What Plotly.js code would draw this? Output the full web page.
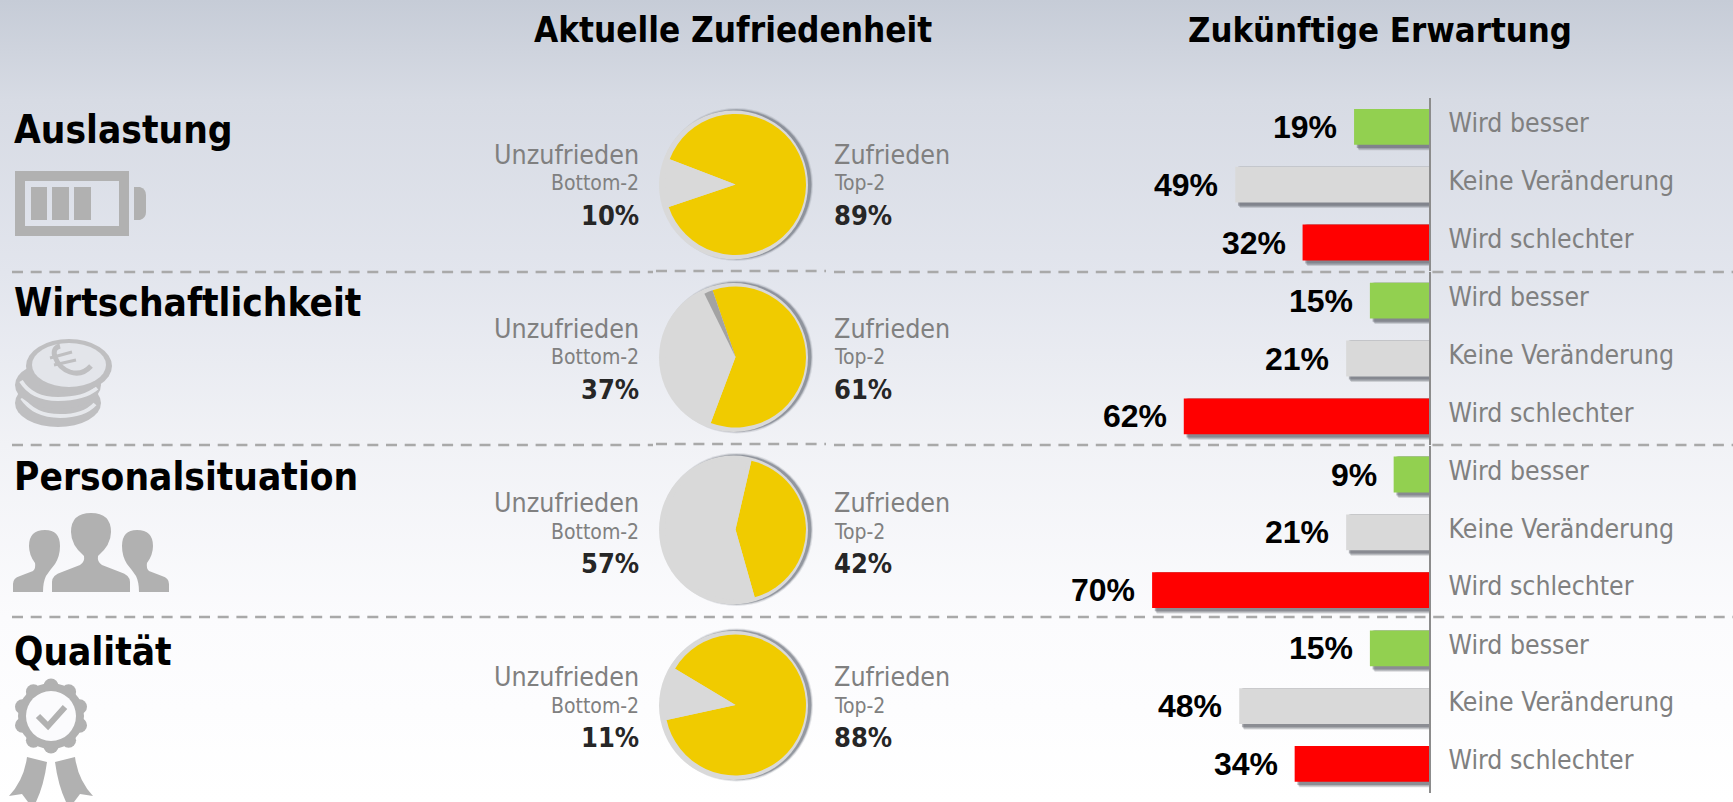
<!DOCTYPE html>
<html>
<head>
<meta charset="utf-8">
<script src="https://cdn.plot.ly/plotly-3.0.1.min.js"></script>
<style>
html,body{margin:0;padding:0;width:1733px;height:802px;overflow:hidden;
background:linear-gradient(180deg,#c6ccd7 0,#d7dbe4 100px,#e2e5ed 272px,#f1f2f6 445px,#fbfbfd 617px,#ffffff 802px);}
#chart{width:1733px;height:802px;}
</style>
</head>
<body>
<div id="chart"></div>
<script>
var rowNames = ["Auslastung","Wirtschaftlichkeit","Personalsituation","Qualität"];
var expectationLabels = ["Wird besser","Keine Veränderung","Wird schlechter"];
var expectationColors = ["#92d050","#d9d9d9","#ff0000"];
var expAuslastung = [19,49,32];
var expWirtschaft = [15,21,62];
var expPersonal = [9,21,70];
var expQualitaet = [15,48,34];
var pieLabels = ["Zufrieden","Unzufrieden","Rest"];
var zufrieden = [89,61,42,88];
var unzufrieden = [10,37,57,11];
var rest = [1,2,1,1];
var pieRotation = [-69,-19,13,-59];

var W=1733,H=802,FONT='"DejaVu Sans Condensed","DejaVu Sans",sans-serif',ARIAL='"Liberation Sans",Arial,sans-serif';
var fx=function(p){return p/W;}, fy=function(p){return 1-p/H;};
var expectation=[expAuslastung,expWirtschaft,expPersonal,expQualitaet];

var traces=[],shapes=[],annotations=[],images=[];
var layout={width:W,height:H,margin:{l:0,r:0,t:0,b:0},paper_bgcolor:'rgba(0,0,0,0)',plot_bgcolor:'rgba(0,0,0,0)',showlegend:false,font:{family:FONT}};

function ann(text,x,y,size,color,weight,anchor,family){
  annotations.push({text:text,xref:'paper',yref:'paper',x:fx(x),y:fy(y),xanchor:anchor,yanchor:'middle',showarrow:false,
    font:{family:family||FONT,size:size,color:color,weight:weight}});
}
function circle(cx,cy,r,fill){
  shapes.push({type:'circle',xref:'paper',yref:'paper',x0:fx(cx-r),x1:fx(cx+r),y0:fy(cy-r),y1:fy(cy+r),fillcolor:fill,line:{width:0},layer:'below'});
}
function dash(x0,x1,y){
  shapes.push({type:'line',xref:'paper',yref:'paper',x0:fx(x0),x1:fx(x1),y0:fy(y),y1:fy(y),line:{color:'#a9a9a9',width:2.5,dash:'11px,7.7px'},layer:'below'});
}

ann("Aktuelle Zufriedenheit",733,30,34.8,'#000',700,'center');
ann("Zukünftige Erwartung",1380,30,34.4,'#000',700,'center');

var pxPerPct=3.96, axisX=1429.3, leftX=1000, panelTop=98, panelH=173.4, rowStep=173.8;
var range=[(axisX-leftX)/pxPerPct,0];
var nameY=[129,303,476,651];

var pieY=[184.5,357,529.5,705];

rowNames.forEach(function(name,k){
  ann(name,12,nameY[k],38.5,'#000',700,'left');
  // pie
  var cx=735.5,cy=pieY[k],r=70.5;
  [[76.5,'rgba(130,135,145,.2)'],[75.5,'rgba(120,125,135,.35)'],[74.8,'rgba(120,125,135,.6)']].forEach(function(s){circle(cx+1,cy,s[0],s[1]);});
  circle(733.5,cy+.5,74.5,'#d9d9d9');
  traces.push({type:'pie',values:[zufrieden[k],unzufrieden[k],rest[k]],labels:pieLabels,sort:false,direction:'clockwise',rotation:pieRotation[k],
    domain:{x:[fx(cx-r),fx(cx+r)],y:[fy(cy+r),fy(cy-r)]},textinfo:'none',hoverinfo:'label+percent',showlegend:false,
    marker:{colors:['#f0cb00','#d9d9d9',k===1?'#a3a3a3':'#d9d9d9'],line:{width:0}}});
  var ty=154+k*174.3;
  ann("Unzufrieden",641,ty,26.6,'#808080',400,'right');
  ann("Bottom-2",641,ty+29,21,'#808080',400,'right');
  ann(unzufrieden[k]+"%",641,ty+61,27,'#262626',700,'right');
  ann("Zufrieden",832,ty,26.6,'#808080',400,'left');
  ann("Top-2",832,ty+29,21,'#808080',400,'left');
  ann(zufrieden[k]+"%",832,ty+61,27,'#262626',700,'left');
  // bars
  var sfx=k===0?'':String(k+1), xa='x'+sfx, ya='y'+sfx;
  var top=panelTop+k*rowStep, bottom=top+panelH;
  layout['xaxis'+sfx]={domain:[fx(leftX),fx(axisX)],range:range,anchor:ya,visible:false,fixedrange:true};
  layout['yaxis'+sfx]={domain:[fy(bottom),fy(top)],type:'category',categoryorder:'array',categoryarray:expectationLabels,
    autorange:'reversed',anchor:xa,side:'right',showgrid:false,zeroline:false,showline:true,linecolor:'#8c8c8c',linewidth:2,
    ticks:'',ticklabelstandoff:12,ticklabelshift:4,tickfont:{family:FONT,size:26.4,color:'#808080'},fixedrange:true};
  traces.push({type:'bar',orientation:'h',x:expectation[k],y:expectationLabels,xaxis:xa,yaxis:ya,marker:{color:expectationColors,line:{width:0}},
    width:0.62,hoverinfo:'x+y',showlegend:false,cliponaxis:false});
  expectation[k].forEach(function(v,i){
    [[5.5,'rgba(90,94,102,.22)'],[4.5,'rgba(90,94,102,.3)'],[3.2,'rgba(90,94,102,.45)']].forEach(function(s){
      shapes.push({type:'rect',xref:xa,yref:ya,x0:v-s[0]*0.85/pxPerPct,x1:0,y0:i-0.31,y1:i+0.31+s[0]/57.8,fillcolor:s[1],line:{width:0},layer:'below'});
    });
    annotations.push({text:v+"%",xref:xa,yref:ya,x:v,y:expectationLabels[i],xanchor:'right',yanchor:'middle',xshift:-15,yshift:0,showarrow:false,
      font:{family:ARIAL,size:32,color:'#000',weight:700}});
  });
});

[272,445,617].forEach(function(y,k){
  if(k<2){dash(12,653,y);dash(656,826,y-1);dash(834,W,y);}
  else dash(12,W,y);
});

function icon(svg,x,y,w,h){
  var src='data:image/svg+xml;charset=utf-8,'+encodeURIComponent('<svg xmlns="http://www.w3.org/2000/svg" width="'+w*2+'" height="'+h*2+'" viewBox="'+x+' '+y+' '+w+' '+h+'">'+svg+'</svg>');
  images.push({source:src,xref:'paper',yref:'paper',x:fx(x),y:fy(y),sizex:w/W,sizey:h/H,xanchor:'left',yanchor:'top',sizing:'stretch',layer:'below'});
}
var G='#b1b1b1';
icon('<rect x="20" y="176" width="104" height="55" fill="none" stroke="'+G+'" stroke-width="10"/><rect x="31" y="187" width="16" height="33" fill="'+G+'"/><rect x="52" y="187" width="17" height="33" fill="'+G+'"/><rect x="74" y="187" width="17" height="33" fill="'+G+'"/><path d="M134 187H140Q146 189 146 195V212Q146 218 140 220H134Z" fill="'+G+'"/>',10,165,140,76);
var C='#bfbfc1';
icon('<ellipse cx="58" cy="403" rx="43" ry="24" fill="'+C+'"/><path d="M22 398Q34 416 60 416Q84 416 95 404" fill="none" stroke="#e6e8ec" stroke-width="4"/><ellipse cx="58" cy="385" rx="43" ry="24" fill="'+C+'"/><path d="M21 381Q32 399 58 399Q84 399 97 388" fill="none" stroke="#e6e8ec" stroke-width="4"/><ellipse cx="69" cy="366" rx="43" ry="27" fill="'+C+'"/><ellipse cx="69" cy="365" rx="37" ry="22" fill="#e3e5ea"/><path d="M91 366Q82 376 70 372Q59 368 55 357Q52 348 60 346" fill="none" stroke="'+C+'" stroke-width="5"/><path d="M50 358L72 352M54 365L76 360" stroke="'+C+'" stroke-width="3"/>',10,335,105,95);
var P='#b1b1b1';
icon('<path fill="'+P+'" d="M52 592V582Q52 575 62 572L80 565Q85 562 84 556Q71 545 71 532Q71 513 91 513Q111 513 111 532Q111 545 98 556Q97 562 102 565L120 572Q130 575 130 582V592Z"/><path fill="'+P+'" d="M13 592V584Q13 578 20 576L33 571Q36 568 35 563Q29 555 29 546Q29 530 45 530Q60 530 60 546Q60 556 55 564Q50 570 46 576Q43 582 43 592Z"/><path fill="'+P+'" d="M169 592V584Q169 578 162 576L149 571Q146 568 147 563Q153 555 153 546Q153 530 137 530Q122 530 122 546Q122 556 127 564Q132 570 136 576Q139 582 139 592Z"/>',8,510,166,86);
var bumps='';
for(var a=0;a<10;a++){var t=a*Math.PI/5;bumps+='<circle cx="'+(51+30*Math.sin(t)).toFixed(1)+'" cy="'+(716+30*Math.cos(t)).toFixed(1)+'" r="7.5" fill="'+G+'"/>';}
icon(bumps+'<circle cx="51" cy="716" r="33" fill="'+G+'"/><circle cx="51" cy="716" r="25" fill="#fbfbfd"/><path d="M38 716L48 726L65 707" fill="none" stroke="'+G+'" stroke-width="6"/><path fill="'+G+'" d="M27 757L47 762Q44 785 36 802H28L22 794L9 796Q24 780 27 757Z"/><path fill="'+G+'" d="M75 757L55 762Q58 785 66 802H74L80 794L93 796Q78 780 75 757Z"/>',5,675,95,127);

layout.shapes=shapes;layout.annotations=annotations;layout.images=images;
Plotly.newPlot('chart',traces,layout,{displayModeBar:false,staticPlot:true});
</script>
</body>
</html>
